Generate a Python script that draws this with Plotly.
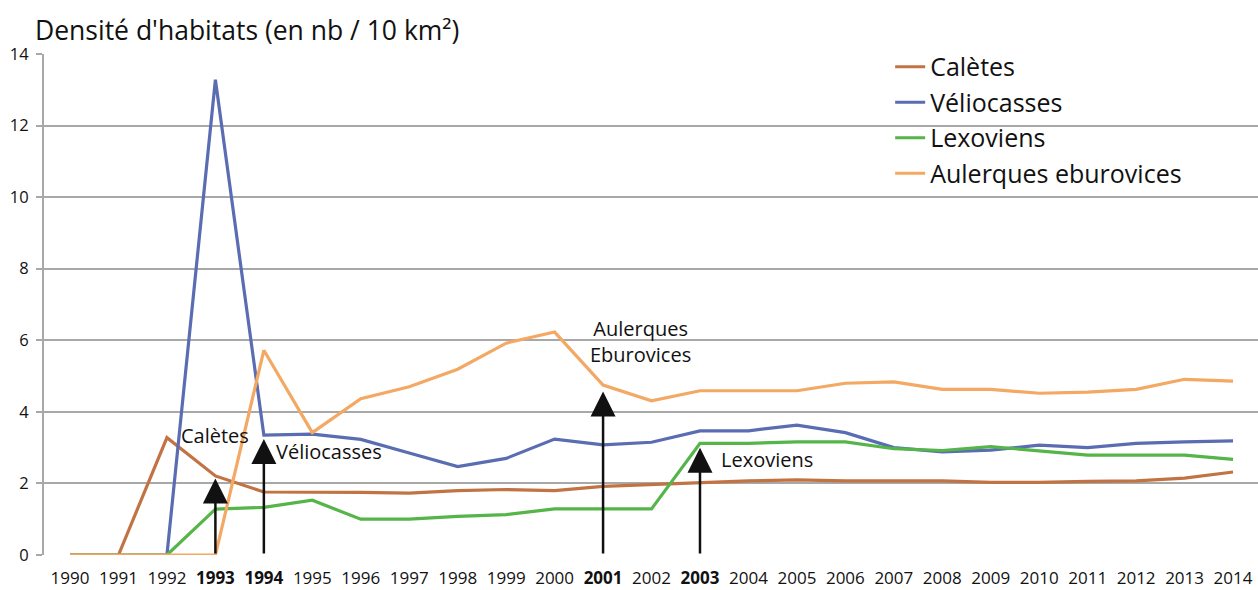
import plotly.graph_objects as go

# Years on the horizontal axis
years = list(range(1990, 2015))

# Habitat density (number per 10 km²) for each people
caletes = [0, 0, 3.28, 2.21, 1.76, 1.76, 1.75, 1.73, 1.80, 1.83, 1.80, 1.92, 1.97,
           2.04, 2.07, 2.10, 2.07, 2.07, 2.07, 2.03, 2.03, 2.06, 2.07, 2.15, 2.32]
veliocasses = [0, 0, 0, 13.28, 3.35, 3.38, 3.23, 2.85, 2.47, 2.70, 3.24, 3.08, 3.15,
               3.47, 3.47, 3.63, 3.42, 3.00, 2.88, 2.93, 3.07, 3.00, 3.12, 3.16, 3.19]
lexoviens = [0, 0, 0, 1.28, 1.33, 1.53, 1.00, 1.00, 1.08, 1.13, 1.29, 1.29, 1.29,
             3.12, 3.12, 3.16, 3.16, 2.97, 2.92, 3.03, 2.92, 2.79, 2.79, 2.79, 2.67]
aulerques = [0, 0, 0, 0, 5.72, 3.42, 4.37, 4.70, 5.19, 5.92, 6.23, 4.75, 4.31,
             4.59, 4.59, 4.59, 4.80, 4.84, 4.63, 4.63, 4.52, 4.55, 4.63, 4.91, 4.86]

series_names = ["Calètes", "Véliocasses", "Lexoviens", "Aulerques eburovices"]
series_values = [caletes, veliocasses, lexoviens, aulerques]
series_colors = ["#c27344", "#5a6cb2", "#55b548", "#f3a863"]

# Years printed in bold on the axis
bold_years = [1993, 1994, 2001, 2003]
tick_labels = [f"<b>{y}</b>" if y in bold_years else str(y) for y in years]

# Event arrows and their labels
arrow_years = [1993, 1994, 2001, 2003]
arrow_tips = [2.14, 3.24, 4.57, 3.00]
label_texts = ["Calètes", "Véliocasses", "Aulerques<br>Eburovices", "Lexoviens"]
label_x = [1992.24, 1994.20, 2001.77, 2003.39]
label_y = [3.35, 2.88, 5.97, 2.68]
label_anchor = ["left", "left", "center", "left"]

FONT = "Open Sans"

fig = go.Figure()
for name, vals, col in zip(series_names, series_values, series_colors):
    fig.add_trace(go.Scatter(
        x=years, y=vals, name=name, mode="lines",
        line=dict(color=col, width=3.2),
    ))

for yr, tip in zip(arrow_years, arrow_tips):
    fig.add_annotation(
        x=yr, y=tip, ax=yr, ay=0, xref="x", yref="y", axref="x", ayref="y",
        showarrow=True, arrowhead=2, arrowsize=2.0, arrowwidth=2.5,
        arrowcolor="#111111", text="",
    )

for txt, lx, ly, anc in zip(label_texts, label_x, label_y, label_anchor):
    fig.add_annotation(
        x=lx, y=ly, xref="x", yref="y", text=txt, showarrow=False,
        xanchor=anc, yanchor="middle", align="center",
        font=dict(family=FONT, size=20, color="#111111"),
    )

fig.add_annotation(
    text="Densité d'habitats (en nb / 10 km²)",
    xref="paper", yref="paper", x=-0.009, y=1.008,
    xanchor="left", yanchor="bottom", showarrow=False,
    font=dict(family=FONT, size=26.5, color="#111111"),
)

fig.update_layout(
    width=1258, height=590,
    margin=dict(l=44, r=0, t=54, b=35),
    paper_bgcolor="white", plot_bgcolor="white",
    font=dict(family=FONT, color="#111111"),
    showlegend=True,
    legend=dict(
        x=0.697, y=1.02, xanchor="left", yanchor="top",
        bgcolor="rgba(0,0,0,0)", borderwidth=0,
        font=dict(family=FONT, size=25, color="#111111"),
        tracegroupgap=0, itemwidth=30,
    ),
)

fig.update_xaxes(
    range=[1989.463, 2014.515],
    tickvals=years, ticktext=tick_labels,
    showgrid=False, zeroline=False, showline=False,
    ticks="", ticklabelstandoff=11,
    tickfont=dict(family=FONT, size=17, color="#111111"),
)

fig.update_yaxes(
    range=[0, 14], tickvals=[0, 2, 4, 6, 8, 10, 12, 14],
    showgrid=True, gridcolor="#a8a8a8", gridwidth=2,
    zeroline=False, showline=True, linecolor="#a8a8a8", linewidth=2,
    ticks="outside", ticklen=6, tickcolor="#a8a8a8", tickwidth=2,
    ticklabelstandoff=4,
    tickfont=dict(family=FONT, size=16.5, color="#111111"),
)

fig.write_html("out.html")
